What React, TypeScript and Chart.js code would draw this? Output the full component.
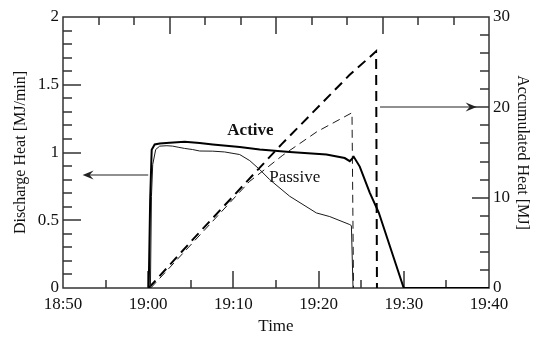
import React, { useEffect, useRef } from "react";
import { Chart, registerables } from "chart.js";

Chart.register(...registerables);

// Time axis in minutes after 18:00 (18:50 -> 50, 19:40 -> 100)
const xTicks = [50, 60, 70, 80, 90, 100];
const leftTicks = [0, 0.5, 1, 1.5, 2];
const rightTicks = [0, 10, 20, 30];

// Discharge heat [MJ/min] - Active (bold solid)
const activeTime = [60.06, 60.23, 60.41, 60.76, 61.35, 62.52, 64.28, 66.04, 67.57, 70.74, 73.09, 76.61, 80.92, 83.06, 83.66, 84.13, 84.83, 86.0, 87.06, 89.99, 100];
const activeRate = [0, 0.65, 1.02, 1.059, 1.066, 1.072, 1.08, 1.07, 1.059, 1.04, 1.022, 1.004, 0.985, 0.959, 0.936, 0.968, 0.896, 0.704, 0.557, 0, 0];

// Discharge heat [MJ/min] - Passive (thin solid)
const passiveTime = [60.26, 60.38, 60.53, 60.88, 61.35, 62.2, 62.88, 63.6, 64.28, 65.2, 66.04, 67.57, 68.98, 70.74, 71.92, 73.09, 74.26, 76.61, 79.74, 81.31, 83.66, 83.85, 84.04];
const passiveRate = [0, 0.675, 0.911, 1.022, 1.047, 1.05, 1.047, 1.038, 1.03, 1.022, 1.011, 1.01, 1.004, 0.985, 0.94, 0.874, 0.8, 0.677, 0.554, 0.527, 0.468, 0.46, 0];

// Accumulated heat [MJ] - Active (bold dashed)
const activeAccTime = [60.06, 65.66, 75.64, 83.65, 86.75, 86.85];
const activeAcc = [0, 5.8, 15.9, 23.6, 26.2, 0];

// Accumulated heat [MJ] - Passive (thin dashed)
const passiveAccTime = [60.3, 71.9, 75.8, 79.8, 83.92, 84.1];
const passiveAcc = [0, 11.8, 14.7, 17.3, 19.4, 0];

// Minor tick steps
const xMinorStep = 5;
const yMinorStep = 0.1;
const y2MinorStep = 2;
const topDivisions = 12;

// Text annotations (data coordinates)
const textLabels = [
  { text: "Active", x: 72.0, y: 1.163, bold: true },
  { text: "Passive", x: 77.2, y: 0.815, bold: false },
];
// Arrows: from -> to, in data coordinates on given y axis
const arrows = [
  { x1: 60.0, x2: 52.3, y: 0.837, axis: "y" },
  { x1: 87.2, x2: 98.55, y: 20, axis: "y2" },
];

const FONT = "'Liberation Serif', 'Times New Roman', serif";
Chart.defaults.font.family = FONT;

function fmtTime(v: number) {
  const total = 18 * 60 + v;
  const h = Math.floor(total / 60);
  const m = Math.round(total % 60);
  return `${h}:${m < 10 ? "0" + m : m}`;
}

const zip = (xs: number[], ys: number[]) => xs.map((x, i) => ({ x, y: ys[i] }));

function drawFrame(chart: any) {
  const { ctx, chartArea: a, scales } = chart;
  const xs = scales.x, ys = scales.y, y2s = scales.y2;
  const L = Math.round(a.left), R = Math.round(a.right);
  const T = Math.round(a.top), B = Math.round(a.bottom);
  ctx.save();
  ctx.setLineDash([]);
  ctx.strokeStyle = "#333";
  ctx.lineWidth = 1.5;
  ctx.lineCap = "butt";
  ctx.beginPath();
  const nx = Math.round((xs.max - xs.min) / xMinorStep);
  for (let k = 1; k < nx; k++) {
    const px = Math.round(xs.getPixelForValue(xs.min + k * xMinorStep));
    const len = k % 2 === 0 ? 17 : 8;
    ctx.moveTo(px, B);
    ctx.lineTo(px, B - len);
  }
  for (let k = 1; k < topDivisions; k++) {
    const px = Math.round(a.left + (a.right - a.left) * k / topDivisions);
    const len = k % 3 === 0 ? 17 : 8;
    ctx.moveTo(px, T);
    ctx.lineTo(px, T + len);
  }
  const ny = Math.round((ys.max - ys.min) / yMinorStep);
  for (let k = 1; k < ny; k++) {
    const py = Math.round(ys.getPixelForValue(ys.min + k * yMinorStep));
    const len = k % 5 === 0 ? 18 : 9;
    ctx.moveTo(L, py);
    ctx.lineTo(L + len, py);
  }
  const ny2 = Math.round((y2s.max - y2s.min) / y2MinorStep);
  for (let k = 1; k < ny2; k++) {
    const py = Math.round(y2s.getPixelForValue(y2s.min + k * y2MinorStep));
    const len = k % 5 === 0 ? 17 : 9;
    ctx.moveTo(R, py);
    ctx.lineTo(R - len, py);
  }
  ctx.stroke();
  ctx.lineJoin = "miter";
  ctx.strokeRect(L, T, R - L, B - T);
  ctx.restore();
}

function drawAnnotations(chart: any) {
  const { ctx, scales } = chart;
  ctx.save();
  ctx.setLineDash([]);
  ctx.fillStyle = "#111";
  ctx.textAlign = "center";
  ctx.textBaseline = "middle";
  for (const t of textLabels) {
    ctx.font = `${t.bold ? "bold " : ""}17px ${FONT}`;
    ctx.fillText(t.text, scales.x.getPixelForValue(t.x), scales.y.getPixelForValue(t.y));
  }
  ctx.strokeStyle = "#222";
  ctx.fillStyle = "#222";
  ctx.lineWidth = 1.2;
  for (const ar of arrows) {
    const py = Math.round(scales[ar.axis].getPixelForValue(ar.y));
    const p1 = scales.x.getPixelForValue(ar.x1);
    const p2 = scales.x.getPixelForValue(ar.x2);
    const dir = p2 > p1 ? 1 : -1;
    ctx.beginPath();
    ctx.moveTo(p1, py);
    ctx.lineTo(p2 - dir * 6, py);
    ctx.stroke();
    ctx.beginPath();
    ctx.moveTo(p2, py);
    ctx.lineTo(p2 - dir * 11, py - 4.5);
    ctx.lineTo(p2 - dir * 7, py);
    ctx.lineTo(p2 - dir * 11, py + 4.5);
    ctx.closePath();
    ctx.fill();
  }
  ctx.restore();
}

const framePlugin = {
  id: "frameTicks",
  beforeDatasetsDraw(chart: any) {
    drawFrame(chart);
  },
  afterDatasetsDraw(chart: any) {
    drawAnnotations(chart);
  },
};

export default function App() {
  const ref = useRef<HTMLCanvasElement | null>(null);
  useEffect(() => {
    document.body.style.margin = "0";
    const canvas = ref.current!;
    const tickFont = { family: FONT, size: 17 };
    const chart = new Chart(canvas, {
      type: "line",
      data: {
        datasets: [
          {
            data: zip(activeTime, activeRate),
            yAxisID: "y",
            borderColor: "#000",
            borderWidth: 2,
            pointRadius: 0,
            tension: 0,
            fill: false,
          },
          {
            data: zip(passiveTime, passiveRate),
            yAxisID: "y",
            borderColor: "#1a1a1a",
            borderWidth: 1,
            pointRadius: 0,
            tension: 0,
            fill: false,
          },
          {
            data: zip(activeAccTime, activeAcc),
            yAxisID: "y2",
            borderColor: "#000",
            borderWidth: 2,
            borderDash: [10, 6],
            pointRadius: 0,
            tension: 0,
            fill: false,
          },
          {
            data: zip(passiveAccTime, passiveAcc),
            yAxisID: "y2",
            borderColor: "#1a1a1a",
            borderWidth: 1,
            borderDash: [8, 5],
            pointRadius: 0,
            tension: 0,
            fill: false,
          },
        ],
      },
      options: {
        animation: false,
        responsive: false,
        devicePixelRatio: 1,
        events: [],
        layout: { padding: { top: 17, left: 0, right: 0, bottom: 0 } },
        plugins: { legend: { display: false }, tooltip: { enabled: false } },
        scales: {
          x: {
            type: "linear",
            position: "bottom",
            min: 50,
            max: 100,
            afterBuildTicks: (s: any) => { s.ticks = xTicks.map((v) => ({ value: v })); },
            ticks: { callback: (v: any) => fmtTime(Number(v)), font: tickFont, color: "#111", padding: 6, maxRotation: 0, autoSkip: false },
            grid: { display: false, drawTicks: false },
            border: { display: false },
            title: { display: true, text: "Time", font: { family: FONT, size: 17 }, color: "#111", padding: { top: 0, bottom: 0 } },
            afterFit: (s: any) => { s.height = 49; },
          },
          y: {
            type: "linear",
            position: "left",
            min: 0,
            max: 2,
            afterBuildTicks: (s: any) => { s.ticks = leftTicks.map((v) => ({ value: v })); },
            ticks: { callback: (v: any) => String(Number(v)), font: tickFont, color: "#111", padding: 4 },
            grid: { display: false, drawTicks: false },
            border: { display: false },
            title: { display: true, text: "Discharge Heat [MJ/min]", font: { family: FONT, size: 16 }, color: "#111", padding: { top: 11, bottom: 0 } },
            afterFit: (s: any) => { s.width = 63; },
          },
          y2: {
            type: "linear",
            position: "right",
            min: 0,
            max: 30,
            afterBuildTicks: (s: any) => { s.ticks = rightTicks.map((v) => ({ value: v })); },
            ticks: { callback: (v: any) => String(Number(v)), font: tickFont, color: "#111", padding: 4 },
            grid: { display: false, drawTicks: false },
            border: { display: false },
            title: { display: true, text: "Accumulated Heat [MJ]", font: { family: FONT, size: 16 }, color: "#111", padding: { top: 2, bottom: 0 } },
            afterFit: (s: any) => { s.width = 45; },
          },
        },
      },
      plugins: [framePlugin],
    } as any);
    return () => chart.destroy();
  }, []);
  return (
    <div style={{ position: "absolute", left: 0, top: 0, width: 534, height: 337 }}>
      <canvas ref={ref} width={534} height={337} style={{ display: "block" }} />
    </div>
  );
}
